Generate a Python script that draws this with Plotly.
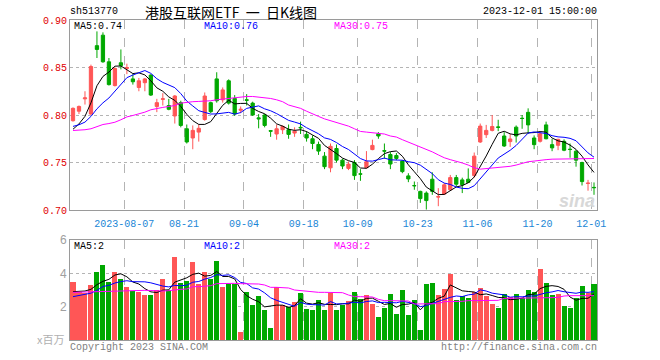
import pandas as pd
import plotly.graph_objects as go

# ---------------- data ----------------
holidays = ["2023-09-29", "2023-10-02", "2023-10-03", "2023-10-04", "2023-10-05", "2023-10-06"]
dates = [d.strftime("%Y-%m-%d") for d in pd.bdate_range("2023-07-25", "2023-12-01")
         if d.strftime("%Y-%m-%d") not in holidays]

opens = [0.794, 0.804, 0.817, 0.801, 0.873, 0.884, 0.856, 0.831, 0.855, 0.849,
         0.838, 0.829, 0.834, 0.842, 0.809, 0.8165, 0.810, 0.799, 0.813, 0.7855,
         0.7758, 0.782, 0.7952, 0.813, 0.838, 0.816, 0.836, 0.8174, 0.805, 0.816,
         0.8125, 0.797, 0.800, 0.7835, 0.780, 0.7845, 0.7845, 0.781, 0.787, 0.7796,
         0.775, 0.769, 0.7567, 0.7444, 0.7647, 0.7525, 0.7438, 0.750, 0.738, 0.7445,
         0.7636, 0.7803, 0.7625, 0.7584, 0.7574, 0.7515, 0.7359, 0.7258, 0.7196, 0.7178,
         0.7324, 0.7136, 0.7168, 0.7213, 0.7341, 0.7317, 0.7324, 0.7362, 0.7716, 0.7793,
         0.7838, 0.7875, 0.7779, 0.772, 0.7872, 0.7966, 0.8028, 0.7758, 0.7723, 0.7896,
         0.7688, 0.7681, 0.7723, 0.764, 0.7619, 0.750, 0.7279, 0.7238]
highs = [0.808, 0.810, 0.825, 0.853, 0.888, 0.887, 0.860, 0.850, 0.869, 0.854,
         0.843, 0.839, 0.839, 0.843, 0.817, 0.823, 0.817, 0.821, 0.815, 0.790,
         0.789, 0.790, 0.8237, 0.814, 0.845, 0.829, 0.8375, 0.821, 0.809, 0.822,
         0.814, 0.801, 0.801, 0.784, 0.790, 0.789, 0.790, 0.787, 0.793, 0.783,
         0.7785, 0.772, 0.761, 0.770, 0.769, 0.754, 0.751, 0.7525, 0.743, 0.762,
         0.774, 0.782, 0.770, 0.761, 0.760, 0.7525, 0.7387, 0.730, 0.7203, 0.7196,
         0.7397, 0.723, 0.7283, 0.7369, 0.7369, 0.734, 0.7438, 0.7605, 0.791, 0.7896,
         0.800, 0.795, 0.782, 0.780, 0.789, 0.800, 0.807, 0.7785, 0.782, 0.793,
         0.775, 0.775, 0.7744, 0.770, 0.763, 0.7508, 0.7317, 0.729]
lows = [0.793, 0.801, 0.811, 0.800, 0.860, 0.855, 0.831, 0.830, 0.848, 0.843,
        0.832, 0.825, 0.825, 0.820, 0.803, 0.810, 0.805, 0.791, 0.787, 0.770,
        0.764, 0.772, 0.794, 0.802, 0.813, 0.813, 0.811, 0.799, 0.802, 0.810,
        0.799, 0.786, 0.787, 0.777, 0.774, 0.780, 0.775, 0.777, 0.780, 0.772,
        0.764, 0.758, 0.743, 0.7397, 0.750, 0.743, 0.742, 0.7317, 0.7307, 0.7438,
        0.7629, 0.775, 0.754, 0.743, 0.7525, 0.7387, 0.7293, 0.7213, 0.7075, 0.7005,
        0.716, 0.704, 0.716, 0.720, 0.7248, 0.7178, 0.7283, 0.734, 0.7706, 0.7758,
        0.7827, 0.783, 0.7664, 0.7664, 0.771, 0.7855, 0.7803, 0.764, 0.771, 0.7744,
        0.7619, 0.763, 0.7619, 0.755, 0.7456, 0.7258, 0.7203, 0.716]
closes = [0.807, 0.809, 0.818, 0.851, 0.869, 0.856, 0.832, 0.849, 0.852, 0.850,
          0.835, 0.836, 0.838, 0.821, 0.813, 0.817, 0.806, 0.820, 0.789, 0.7716,
          0.7838, 0.786, 0.820, 0.8035, 0.815, 0.8264, 0.8125, 0.801, 0.806, 0.8155,
          0.800, 0.796, 0.789, 0.783, 0.7855, 0.788, 0.7796, 0.783, 0.7865, 0.7758,
          0.770, 0.762, 0.7456, 0.767, 0.7525, 0.7463, 0.7483, 0.7362, 0.7378, 0.7508,
          0.768, 0.7779, 0.762, 0.7484, 0.7543, 0.7404, 0.7327, 0.7255, 0.712, 0.7099,
          0.7196, 0.714, 0.7265, 0.7341, 0.7272, 0.7265, 0.729, 0.7567, 0.7883, 0.7838,
          0.7879, 0.787, 0.7674, 0.7748, 0.7779, 0.7963, 0.7896, 0.7688, 0.7803, 0.775,
          0.7654, 0.7744, 0.7629, 0.7637, 0.7525, 0.7299, 0.7283, 0.7235]
prior_closes = [0.792, 0.790, 0.791, 0.789, 0.793, 0.781, 0.778, 0.780, 0.779]
ma30_price = [0.7837, 0.7840, 0.7845, 0.7855, 0.7875, 0.790, 0.791, 0.7924, 0.795, 0.798,
              0.7995, 0.801, 0.803, 0.8055, 0.807, 0.808, 0.809, 0.810, 0.8125, 0.8135,
              0.814, 0.8143, 0.8146, 0.815, 0.816, 0.8167, 0.8175, 0.8184, 0.819, 0.8195,
              0.8195, 0.819, 0.818, 0.8174, 0.816, 0.814, 0.8105, 0.809, 0.807, 0.804,
              0.801, 0.7985, 0.7959, 0.794, 0.7917, 0.790, 0.7883, 0.7855, 0.7827, 0.782,
              0.7813, 0.781, 0.780, 0.7779, 0.7768, 0.774, 0.7716, 0.769, 0.7664, 0.764,
              0.7612, 0.758, 0.755, 0.753, 0.7515, 0.7495, 0.7473, 0.7445, 0.743, 0.7435,
              0.744, 0.7445, 0.745, 0.746, 0.7473, 0.749, 0.7508, 0.7515, 0.7525, 0.753,
              0.7535, 0.7535, 0.754, 0.754, 0.754, 0.754, 0.754, 0.7542]

volumes = [3.5, 2.9, 2.8, 3.3, 4.1, 4.5, 3.5, 4.1, 3.66, 3.2,
           2.94, 2.9, 2.7, 2.7, 3.0, 3.66, 3.0, 5.0, 3.44, 3.56,
           4.7, 3.36, 4.1, 3.66, 4.74, 3.2, 3.36, 3.36, 0.5, 2.9,
           2.1, 2.64, 1.8, 0.74, 3.18, 2.1, 1.96, 2.3, 2.84, 1.86,
           1.8, 2.4, 1.8, 2.8, 1.8, 2.1, 2.34, 2.9, 2.46, 2.7,
           2.16, 1.4, 1.94, 2.76, 1.56, 3.0, 1.5, 2.4, 0.6, 3.36,
           3.44, 2.7, 3.06, 3.96, 2.4, 2.64, 2.5, 2.9, 3.14, 2.64,
           2.16, 1.94, 2.76, 2.6, 2.76, 2.5, 3.0, 2.9, 4.26, 3.44,
           2.7, 2.76, 2.04, 1.94, 2.5, 3.24, 2.8, 3.36]
prior_volumes = [2.2, 2.4, 2.3, 2.4, 2.2, 2.8, 2.7, 2.8, 2.7]
ma30_volume = [2.86, 2.87, 2.88, 2.89, 2.9, 2.92, 2.94, 2.96, 2.98, 2.98,
               2.98, 2.98, 2.98, 2.97, 2.94, 2.94, 2.96, 3.02, 3.04, 3.06,
               3.2, 3.2, 3.22, 3.26, 3.38, 3.4, 3.4, 3.4, 3.38, 3.38,
               3.38, 3.36, 3.3, 3.16, 3.16, 3.14, 3.12, 3.0, 2.96, 2.92,
               2.86, 2.86, 2.86, 2.86, 2.86, 2.84, 2.7, 2.6, 2.6, 2.6,
               2.58, 2.44, 2.36, 2.36, 2.36, 2.36, 2.34, 2.16, 2.16, 2.16,
               2.16, 2.18, 2.3, 2.3, 2.3, 2.32, 2.36, 2.36, 2.36, 2.36,
               2.36, 2.38, 2.5, 2.5, 2.5, 2.52, 2.54, 2.54, 2.54, 2.54,
               2.54, 2.56, 2.64, 2.66, 2.66, 2.66, 2.66, 2.66]

tick_dates = ["2023-08-07", "2023-08-21", "2023-09-04", "2023-09-18", "2023-10-09",
              "2023-10-23", "2023-11-06", "2023-11-20", "2023-12-01"]
tick_labels = ["2023-08-07", "08-21", "09-04", "09-18", "10-09", "10-23", "11-06", "11-20", "12-01"]

title_text = "港股互联网ETF\u00a0\u00a0一\u00a0\u00a0日K线图"
code_text = "sh513770"
time_text = "2023-12-01 15:00:00"

# ---------------- derived ----------------
n = len(dates)
xs = list(range(n))
c_all = pd.Series(prior_closes + closes)
ma5_price = c_all.rolling(5).mean().iloc[len(prior_closes):].tolist()
ma10_price = c_all.rolling(10).mean().iloc[len(prior_closes):].tolist()
v_all = pd.Series(prior_volumes + volumes)
ma5_vol = v_all.rolling(5).mean().iloc[len(prior_volumes):].tolist()
ma10_vol = v_all.rolling(10).mean().iloc[len(prior_volumes):].tolist()

RED = "#ff5656"
GREEN = "#00a800"
tickpos = [dates.index(d) - 0.45 for d in tick_dates]
vcolors = [RED if c > o else GREEN for o, c in zip(opens, closes)]

W, H = 660, 360
L, R, T1, B1, T2, B2 = 70, 597, 20, 210, 240, 340


def fx(x):
    return x / W


def fy(y):
    return 1 - y / H


MONO = "Liberation Mono, DejaVu Sans Mono, monospace"

fig = go.Figure()
fig.add_trace(go.Candlestick(
    x=xs, open=opens, high=highs, low=lows, close=closes,
    increasing=dict(line=dict(color=RED, width=1), fillcolor=RED),
    decreasing=dict(line=dict(color=GREEN, width=1), fillcolor=GREEN),
    whiskerwidth=0, xaxis="x", yaxis="y", showlegend=False, hoverinfo="skip"))
for vals, col in [(ma5_price, "#000000"), (ma10_price, "#0000ff"), (ma30_price, "#ff00ff")]:
    fig.add_trace(go.Scatter(x=xs, y=vals, mode="lines", line=dict(color=col, width=1),
                             xaxis="x", yaxis="y", showlegend=False, hoverinfo="skip"))
fig.add_trace(go.Bar(x=xs, y=volumes, marker=dict(color=vcolors, line=dict(width=0)),
                     width=0.84, xaxis="x2", yaxis="y2", showlegend=False, hoverinfo="skip"))
for vals, col in [(ma5_vol, "#000000"), (ma10_vol, "#0000ff"), (ma30_volume, "#ff00ff")]:
    fig.add_trace(go.Scatter(x=xs, y=vals, mode="lines", line=dict(color=col, width=1),
                             xaxis="x2", yaxis="y2", showlegend=False, hoverinfo="skip"))

grid = "#b4b4b4"
frame = "#9a9a9a"
xcommon = dict(domain=[fx(L), fx(R)], range=[-0.5, n - 0.5], tickvals=tickpos,
               showgrid=True, gridcolor=grid, griddash="dash", gridwidth=1,
               showline=True, linecolor=frame, linewidth=1, mirror=True,
               zeroline=False, fixedrange=True, automargin=False)
fig.update_layout(
    width=W, height=H, autosize=False,
    margin=dict(l=0, r=0, t=0, b=0, autoexpand=False),
    paper_bgcolor="white", plot_bgcolor="white",
    boxgap=0.22,
    bargap=0,
    xaxis=dict(**xcommon, anchor="y", ticktext=tick_labels,
               tickfont=dict(family=MONO, size=10, color="#1a86d6"),
               ticks="outside", ticklen=4, tickcolor="rgba(0,0,0,0)",
               rangeslider=dict(visible=False)),
    yaxis=dict(domain=[fy(B1), fy(T1)], range=[0.70, 0.90],
               tickvals=[0.70, 0.75, 0.80, 0.85, 0.90],
               ticktext=["0.70", "0.75", "0.80", "0.85", "0.90"],
               tickfont=dict(family=MONO, size=10, color="#e00000"),
               showgrid=True, gridcolor=grid, griddash="dot", gridwidth=1,
               showline=True, linecolor=frame, linewidth=1, mirror=True,
               zeroline=False, anchor="x", fixedrange=True, automargin=False),
    xaxis2=dict(**xcommon, anchor="y2", showticklabels=False, ticks=""),
    yaxis2=dict(domain=[fy(B2), fy(T2)], range=[0, 6],
                tickvals=[2, 4, 6], ticktext=["2", "4", "6"],
                tickfont=dict(family="Liberation Sans, Arial", size=12, color="#a0a0a0"),
                showgrid=True, gridcolor=grid, griddash="dot", gridwidth=1,
                showline=True, linecolor=frame, linewidth=1, mirror=True,
                zeroline=False, anchor="x2", fixedrange=True, automargin=False),
)


def txt(s, x, y, color="#000000", size=10, family=MONO, xanchor="left"):
    fig.add_annotation(text=s, x=fx(x), y=fy(y), xref="paper", yref="paper",
                       xanchor=xanchor, yanchor="middle", showarrow=False,
                       font=dict(family=family, size=size, color=color))


txt(code_text, 68, 12)
txt(title_text, 231, 12, size=14, family="Noto Sans CJK SC", xanchor="center")
txt(time_text, 599, 12, xanchor="right")
txt("MA5:%.2f" % ma5_price[-1], 72, 27)
txt("MA10:%.2f" % ma10_price[-1], 202, 27, color="#0000ff")
txt("MA30:%.2f" % ma30_price[-1], 332, 27, color="#ff00ff")
txt("MA5:%d" % int(ma5_vol[-1]), 72, 246)
txt("MA10:%d" % int(ma10_vol[-1]), 202, 246, color="#0000ff")
txt("MA30:%d" % int(ma30_volume[-1]), 332, 246, color="#ff00ff")
txt("x百万", 66, 339, color="#b0b0b0", size=11, family="Noto Sans CJK SC", xanchor="right")
txt("Copyright 2023 SINA.COM", 68, 347, color="#808080")
txt("http://finance.sina.com.cn", 599, 347, color="#808080", xanchor="right")
txt("<b><i>sina</i></b>", 597, 201, color="#d8d8d8", size=18,
    family="Liberation Sans, Arial", xanchor="right")

# the browser's default 8px body margin would offset the 660x360 figure
fig.write_html("out.html", config={"displayModeBar": False, "staticPlot": True},
               post_script="document.body.style.margin='0px';")
